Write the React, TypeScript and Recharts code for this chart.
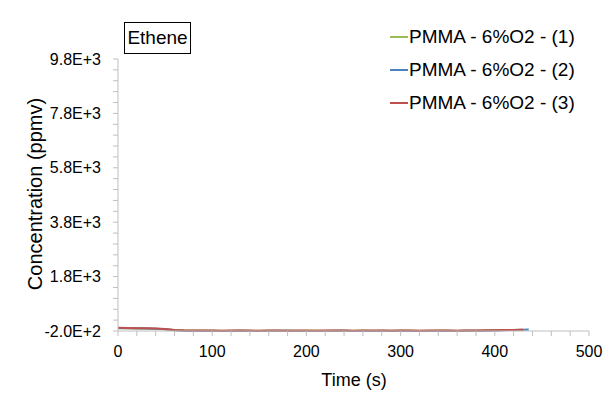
import React from "react";
import { LineChart, Line, XAxis, YAxis } from "recharts";

const seriesNames = ["PMMA - 6%O2 - (1)", "PMMA - 6%O2 - (2)", "PMMA - 6%O2 - (3)"];
const seriesColors = ["#9BBB59", "#4F81BD", "#C0504D"];

const time1 = [0,10,20,30,40,50,60,70,80,90,100,110,120,130,140,150,160,170,180,190,200,210,220,230,240,250,260,270,280,290,300,310,320,330,340,350,360,370,380,390,400,410,420,430];
const conc1 = [-95,-100,-105,-110,-120,-135,-160,-180,-185,-190,-185,-195,-190,-185,-190,-195,-180,-190,-185,-195,-190,-185,-195,-190,-180,-190,-185,-195,-190,-185,-190,-180,-195,-190,-185,-190,-195,-185,-190,-180,-170,-165,-160,-155];

const time2 = [0,10,20,30,40,50,60,70,80,90,100,110,120,130,140,150,160,170,180,190,200,210,220,230,240,250,260,270,280,290,300,310,320,330,340,350,360,370,380,390,400,410,420,430,436];
const conc2 = [-90,-95,-100,-105,-115,-140,-175,-195,-198,-195,-200,-196,-199,-192,-198,-196,-200,-195,-192,-198,-196,-200,-198,-195,-192,-198,-196,-200,-195,-198,-192,-196,-199,-196,-200,-195,-198,-192,-195,-188,-180,-170,-160,-150,-145];

const time3 = [0,10,20,30,40,50,60,70,80,90,100,110,120,130,140,150,160,170,180,190,200,210,220,230,240,250,260,270,280,290,300,310,320,330,340,350,360,370,380,390,400,410,420,430];
const conc3 = [-85,-90,-95,-100,-110,-130,-160,-175,-180,-185,-180,-190,-185,-180,-185,-190,-180,-185,-190,-180,-185,-190,-185,-180,-185,-190,-185,-180,-185,-190,-185,-180,-190,-185,-180,-185,-190,-185,-180,-175,-170,-165,-160,-155];

const yMajorTicks = [-200, 1800, 3800, 5800, 7800, 9800];
const yAllTicks = [-200,200,600,1000,1400,1800,2200,2600,3000,3400,3800,4200,4600,5000,5400,5800,6200,6600,7000,7400,7800,8200,8600,9000,9400,9800];
const xMajorTicks = [0, 100, 200, 300, 400, 500];
const xAllTicks = [0,20,40,60,80,100,120,140,160,180,200,220,240,260,280,300,320,340,360,380,400,420,440,460,480,500];

const titleText = "Ethene";
const xTitle = "Time (s)";
const yTitle = "Concentration (ppmv)";

const toRows = (t: number[], v: number[]) => t.map((x, i) => ({ t: x, c: v[i] }));
const seriesData = [toRows(time1, conc1), toRows(time2, conc2), toRows(time3, conc3)];

const FONT = "'Liberation Sans', Arial, sans-serif";

const YTick = (props: any) => {
  const { x, y, payload } = props;
  if (!yMajorTicks.includes(payload.value)) return null;
  return (
    <text x={x} y={y} dy="0.355em" textAnchor="end" fontSize={16} fontFamily={FONT} fill="#000">
      {Number(payload.value).toExponential(1).toUpperCase()}
    </text>
  );
};

const XTick = (props: any) => {
  const { x, y, payload } = props;
  if (!xMajorTicks.includes(payload.value)) return null;
  return (
    <text x={x} y={y} dy="0.71em" textAnchor="middle" fontSize={16} fontFamily={FONT} fill="#000">
      {payload.value}
    </text>
  );
};

export default function App() {
  return (
    <div style={{ position: "relative", width: 611, height: 401, margin: -8, overflow: "hidden", background: "#fff" }}>
      <div style={{ position: "absolute", left: 7, top: 3, width: 640, height: 395, border: "1px solid #d9d9d9" }} />
      <LineChart width={611} height={401} margin={{ top: 59, right: 22, bottom: 40, left: 58 }}>
        <XAxis
          type="number"
          dataKey="t"
          domain={[0, 500]}
          ticks={xAllTicks}
          interval={0}
          height={30}
          tickSize={5}
          tickMargin={10}
          tick={<XTick />}
          axisLine={{ stroke: "#bfbfbf" }}
          tickLine={{ stroke: "#bfbfbf" }}
          allowDuplicatedCategory={false}
        />
        <YAxis
          type="number"
          domain={[-200, 9800]}
          ticks={yAllTicks}
          interval={0}
          width={60}
          tickSize={5}
          tickMargin={12}
          tick={<YTick />}
          axisLine={{ stroke: "#bfbfbf" }}
          tickLine={{ stroke: "#bfbfbf" }}
        />
        {seriesData.map((d, i) => (
          <Line
            key={seriesNames[i]}
            data={d}
            dataKey="c"
            name={seriesNames[i]}
            type="linear"
            stroke={seriesColors[i]}
            strokeWidth={2}
            dot={false}
            isAnimationActive={false}
          />
        ))}
      </LineChart>
      <div style={{ position: "absolute", left: 390, top: 20, fontFamily: FONT, fontSize: 19, color: "#000" }}>
        {seriesNames.map((n, i) => (
          <div key={n} style={{ display: "flex", alignItems: "center", height: 33 }}>
            <div style={{ width: 18, height: 2, background: seriesColors[i] }} />
            <span style={{ marginLeft: 1, whiteSpace: "nowrap" }}>{n}</span>
          </div>
        ))}
      </div>
      <div style={{ position: "absolute", left: 124, top: 22, width: 65, height: 30, border: "1px solid #000", fontFamily: FONT, fontSize: 19, lineHeight: "30px", textAlign: "center", background: "#fff" }}>
        {titleText}
      </div>
      <div style={{ position: "absolute", left: 354, top: 380, transform: "translate(-50%, -50%)", fontFamily: FONT, fontSize: 18, whiteSpace: "nowrap" }}>
        {xTitle}
      </div>
      <div style={{ position: "absolute", left: 35, top: 194, transform: "translate(-50%, -50%) rotate(-90deg)", fontFamily: FONT, fontSize: 20, whiteSpace: "nowrap" }}>
        {yTitle}
      </div>
    </div>
  );
}
